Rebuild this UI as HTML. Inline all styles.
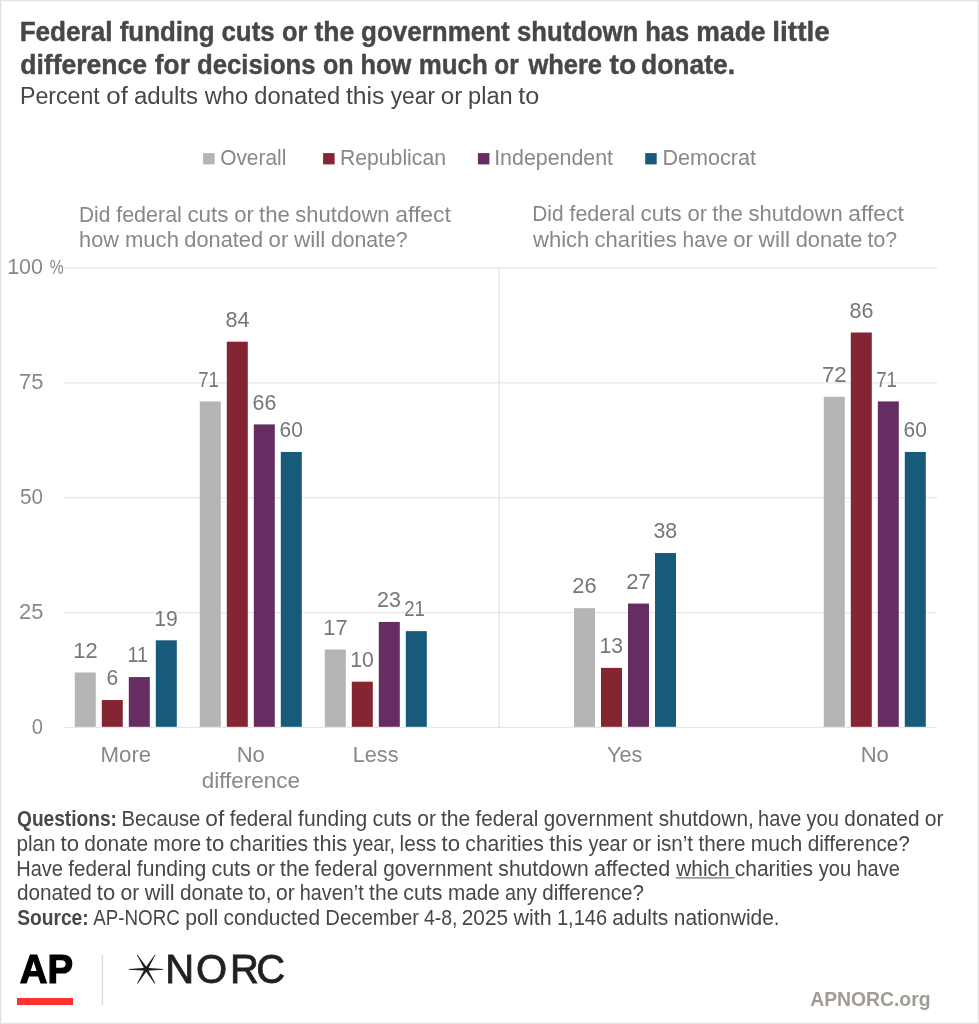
<!DOCTYPE html>
<html><head><meta charset="utf-8"><title>AP-NORC poll chart: Federal funding cuts or the government shutdown has made little difference for decisions on how much or where to donate</title>
<style>
html,body{margin:0;padding:0;background:#fff;}
body{width:979px;height:1024px;overflow:hidden;position:relative;}
svg{position:absolute;left:0;top:0;display:block;}
text{font-family:"Liberation Sans",Arial,sans-serif;}
.ttl{font-weight:bold;fill:#474747;font-size:28.2px;stroke:#474747;stroke-width:0.45px;}
.sub{fill:#474747;font-size:23.3px;}
.leg{fill:#888888;font-size:21.5px;}
.ptl{fill:#888888;font-size:21.5px;}
.ax{fill:#888888;font-size:21.9px;}
.pct{fill:#888888;font-size:19.5px;}
.val{fill:#767676;font-size:22px;}
.xl{fill:#888888;font-size:22.2px;}
.ft{fill:#474747;font-size:21.2px;font-weight:normal;}
.ftb{fill:#474747;font-size:21.2px;font-weight:bold;}
.org{font-weight:bold;fill:#a19c90;font-size:21px;}
.norc{fill:#231f20;font-size:40px;stroke:#231f20;stroke-width:0.8px;}
.ap{fill:#000;font-weight:bold;font-size:40px;stroke:#000;stroke-width:1.2px;}
</style></head><body>
<svg width="979" height="1024" viewBox="0 0 979 1024">
<rect x="0.5" y="0.5" width="978" height="1023" fill="#fff" stroke="#e2e2e2" stroke-width="1"/>
<rect x="1.5" y="1.5" width="976" height="1021" fill="none" stroke="#f6f6f6" stroke-width="1"/>
<text id="t1" class="ttl" y="41.3"><tspan id="t1_0" x="19.63" textLength="92.93" lengthAdjust="spacingAndGlyphs">Federal</tspan> <tspan id="t1_1" x="119.74" textLength="94.77" lengthAdjust="spacingAndGlyphs">funding</tspan> <tspan id="t1_2" x="221.45" textLength="53.20" lengthAdjust="spacingAndGlyphs">cuts</tspan> <tspan id="t1_3" x="281.96" textLength="25.41" lengthAdjust="spacingAndGlyphs">or</tspan> <tspan id="t1_4" x="314.49" textLength="39.72" lengthAdjust="spacingAndGlyphs">the</tspan> <tspan id="t1_5" x="361.09" textLength="148.61" lengthAdjust="spacingAndGlyphs">government</tspan> <tspan id="t1_6" x="517.00" textLength="121.25" lengthAdjust="spacingAndGlyphs">shutdown</tspan> <tspan id="t1_7" x="645.24" textLength="44.04" lengthAdjust="spacingAndGlyphs">has</tspan> <tspan id="t1_8" x="696.30" textLength="69.29" lengthAdjust="spacingAndGlyphs">made</tspan> <tspan id="t1_9" x="772.37" textLength="57.35" lengthAdjust="spacingAndGlyphs">little</tspan></text>
<text id="t2" class="ttl" y="74.2"><tspan id="t2_0" x="20.26" textLength="126.72" lengthAdjust="spacingAndGlyphs">difference</tspan> <tspan id="t2_1" x="154.83" textLength="35.09" lengthAdjust="spacingAndGlyphs">for</tspan> <tspan id="t2_2" x="197.10" textLength="118.51" lengthAdjust="spacingAndGlyphs">decisions</tspan> <tspan id="t2_3" x="322.93" textLength="30.62" lengthAdjust="spacingAndGlyphs">on</tspan> <tspan id="t2_4" x="360.45" textLength="50.78" lengthAdjust="spacingAndGlyphs">how</tspan> <tspan id="t2_5" x="418.81" textLength="68.97" lengthAdjust="spacingAndGlyphs">much</tspan> <tspan id="t2_6" x="494.35" textLength="24.39" lengthAdjust="spacingAndGlyphs">or</tspan> <tspan id="t2_7" x="528.43" textLength="73.54" lengthAdjust="spacingAndGlyphs">where</tspan> <tspan id="t2_8" x="609.54" textLength="26.63" lengthAdjust="spacingAndGlyphs">to</tspan> <tspan id="t2_9" x="640.97" textLength="94.09" lengthAdjust="spacingAndGlyphs">donate.</tspan></text>
<text id="sub" class="sub" y="103.6"><tspan id="sub_0" x="19.95" textLength="79.87" lengthAdjust="spacingAndGlyphs">Percent</tspan> <tspan id="sub_1" x="106.31" textLength="21.63" lengthAdjust="spacingAndGlyphs">of</tspan> <tspan id="sub_2" x="133.97" textLength="64.09" lengthAdjust="spacingAndGlyphs">adults</tspan> <tspan id="sub_3" x="204.76" textLength="43.46" lengthAdjust="spacingAndGlyphs">who</tspan> <tspan id="sub_4" x="254.37" textLength="85.78" lengthAdjust="spacingAndGlyphs">donated</tspan> <tspan id="sub_5" x="345.90" textLength="38.49" lengthAdjust="spacingAndGlyphs">this</tspan> <tspan id="sub_6" x="390.69" textLength="44.28" lengthAdjust="spacingAndGlyphs">year</tspan> <tspan id="sub_7" x="440.80" textLength="21.46" lengthAdjust="spacingAndGlyphs">or</tspan> <tspan id="sub_8" x="468.09" textLength="44.67" lengthAdjust="spacingAndGlyphs">plan</tspan> <tspan id="sub_9" x="518.35" textLength="21.04" lengthAdjust="spacingAndGlyphs">to</tspan></text>
<text id="lg1" class="leg" y="165.2"><tspan id="lg1_0" x="220.16" textLength="66.15" lengthAdjust="spacingAndGlyphs">Overall</tspan></text>
<text id="lg2" class="leg" y="165.2"><tspan id="lg2_0" x="340.01" textLength="105.95" lengthAdjust="spacingAndGlyphs">Republican</tspan></text>
<text id="lg3" class="leg" y="165.2"><tspan id="lg3_0" x="494.18" textLength="118.86" lengthAdjust="spacingAndGlyphs">Independent</tspan></text>
<text id="lg4" class="leg" y="165.2"><tspan id="lg4_0" x="662.47" textLength="93.53" lengthAdjust="spacingAndGlyphs">Democrat</tspan></text>
<text id="p1" class="ptl" y="221.8"><tspan id="p1_0" x="78.93" textLength="31.33" lengthAdjust="spacingAndGlyphs">Did</tspan> <tspan id="p1_1" x="116.16" textLength="65.71" lengthAdjust="spacingAndGlyphs">federal</tspan> <tspan id="p1_2" x="187.41" textLength="41.08" lengthAdjust="spacingAndGlyphs">cuts</tspan> <tspan id="p1_3" x="234.31" textLength="19.67" lengthAdjust="spacingAndGlyphs">or</tspan> <tspan id="p1_4" x="259.00" textLength="30.82" lengthAdjust="spacingAndGlyphs">the</tspan> <tspan id="p1_5" x="295.31" textLength="94.34" lengthAdjust="spacingAndGlyphs">shutdown</tspan> <tspan id="p1_6" x="395.19" textLength="55.64" lengthAdjust="spacingAndGlyphs">affect</tspan></text>
<text id="p2" class="ptl" y="247.4"><tspan id="p2_0" x="79.08" textLength="39.84" lengthAdjust="spacingAndGlyphs">how</tspan> <tspan id="p2_1" x="124.96" textLength="53.95" lengthAdjust="spacingAndGlyphs">much</tspan> <tspan id="p2_2" x="184.38" textLength="78.62" lengthAdjust="spacingAndGlyphs">donated</tspan> <tspan id="p2_3" x="268.59" textLength="19.67" lengthAdjust="spacingAndGlyphs">or</tspan> <tspan id="p2_4" x="293.93" textLength="31.47" lengthAdjust="spacingAndGlyphs">will</tspan> <tspan id="p2_5" x="330.96" textLength="76.63" lengthAdjust="spacingAndGlyphs">donate?</tspan></text>
<text id="p3" class="ptl" y="220.8"><tspan id="p3_0" x="532.23" textLength="31.31" lengthAdjust="spacingAndGlyphs">Did</tspan> <tspan id="p3_1" x="569.44" textLength="65.66" lengthAdjust="spacingAndGlyphs">federal</tspan> <tspan id="p3_2" x="640.62" textLength="41.05" lengthAdjust="spacingAndGlyphs">cuts</tspan> <tspan id="p3_3" x="687.49" textLength="19.65" lengthAdjust="spacingAndGlyphs">or</tspan> <tspan id="p3_4" x="712.15" textLength="30.79" lengthAdjust="spacingAndGlyphs">the</tspan> <tspan id="p3_5" x="748.43" textLength="94.26" lengthAdjust="spacingAndGlyphs">shutdown</tspan> <tspan id="p3_6" x="848.23" textLength="55.59" lengthAdjust="spacingAndGlyphs">affect</tspan></text>
<text id="p4" class="ptl" y="246.7"><tspan id="p4_0" x="533.00" textLength="56.29" lengthAdjust="spacingAndGlyphs">which</tspan> <tspan id="p4_1" x="594.56" textLength="82.18" lengthAdjust="spacingAndGlyphs">charities</tspan> <tspan id="p4_2" x="682.54" textLength="45.41" lengthAdjust="spacingAndGlyphs">have</tspan> <tspan id="p4_3" x="733.27" textLength="19.69" lengthAdjust="spacingAndGlyphs">or</tspan> <tspan id="p4_4" x="758.64" textLength="31.51" lengthAdjust="spacingAndGlyphs">will</tspan> <tspan id="p4_5" x="795.70" textLength="66.81" lengthAdjust="spacingAndGlyphs">donate</tspan> <tspan id="p4_6" x="867.54" textLength="29.50" lengthAdjust="spacingAndGlyphs">to?</tspan></text>
<text id="f1" class="ftb" y="826.1"><tspan id="f1_0" x="17.03" textLength="99.94" lengthAdjust="spacingAndGlyphs">Questions:</tspan> <tspan id="f1_1" class="ft" x="121.48" textLength="78.92" lengthAdjust="spacingAndGlyphs">Because</tspan> <tspan id="f1_2" class="ft" x="205.38" textLength="18.94" lengthAdjust="spacingAndGlyphs">of</tspan> <tspan id="f1_3" class="ft" x="229.73" textLength="62.78" lengthAdjust="spacingAndGlyphs">federal</tspan> <tspan id="f1_4" class="ft" x="298.12" textLength="69.18" lengthAdjust="spacingAndGlyphs">funding</tspan> <tspan id="f1_5" class="ft" x="372.49" textLength="39.24" lengthAdjust="spacingAndGlyphs">cuts</tspan> <tspan id="f1_6" class="ft" x="417.30" textLength="18.79" lengthAdjust="spacingAndGlyphs">or</tspan> <tspan id="f1_7" class="ft" x="440.88" textLength="29.44" lengthAdjust="spacingAndGlyphs">the</tspan> <tspan id="f1_8" class="ft" x="475.58" textLength="62.78" lengthAdjust="spacingAndGlyphs">federal</tspan> <tspan id="f1_9" class="ft" x="543.78" textLength="108.97" lengthAdjust="spacingAndGlyphs">government</tspan> <tspan id="f1_10" class="ft" x="658.68" textLength="95.12" lengthAdjust="spacingAndGlyphs">shutdown,</tspan> <tspan id="f1_11" class="ft" x="758.05" textLength="43.33" lengthAdjust="spacingAndGlyphs">have</tspan> <tspan id="f1_12" class="ft" x="806.47" textLength="32.51" lengthAdjust="spacingAndGlyphs">you</tspan> <tspan id="f1_13" class="ft" x="844.33" textLength="75.12" lengthAdjust="spacingAndGlyphs">donated</tspan> <tspan id="f1_14" class="ft" x="924.79" textLength="18.79" lengthAdjust="spacingAndGlyphs">or</tspan></text>
<text id="f2" class="ft" y="850.9"><tspan id="f2_0" x="16.45" textLength="39.20" lengthAdjust="spacingAndGlyphs">plan</tspan> <tspan id="f2_1" x="60.56" textLength="18.46" lengthAdjust="spacingAndGlyphs">to</tspan> <tspan id="f2_2" x="84.36" textLength="63.88" lengthAdjust="spacingAndGlyphs">donate</tspan> <tspan id="f2_3" x="153.32" textLength="47.76" lengthAdjust="spacingAndGlyphs">more</tspan> <tspan id="f2_4" x="205.84" textLength="18.46" lengthAdjust="spacingAndGlyphs">to</tspan> <tspan id="f2_5" x="229.53" textLength="78.57" lengthAdjust="spacingAndGlyphs">charities</tspan> <tspan id="f2_6" x="313.38" textLength="33.78" lengthAdjust="spacingAndGlyphs">this</tspan> <tspan id="f2_7" x="352.69" textLength="42.34" lengthAdjust="spacingAndGlyphs">year,</tspan> <tspan id="f2_8" x="399.61" textLength="36.77" lengthAdjust="spacingAndGlyphs">less</tspan> <tspan id="f2_9" x="441.63" textLength="18.46" lengthAdjust="spacingAndGlyphs">to</tspan> <tspan id="f2_10" x="465.33" textLength="78.57" lengthAdjust="spacingAndGlyphs">charities</tspan> <tspan id="f2_11" x="549.17" textLength="33.78" lengthAdjust="spacingAndGlyphs">this</tspan> <tspan id="f2_12" x="588.48" textLength="38.86" lengthAdjust="spacingAndGlyphs">year</tspan> <tspan id="f2_13" x="632.45" textLength="18.83" lengthAdjust="spacingAndGlyphs">or</tspan> <tspan id="f2_14" x="656.40" textLength="36.66" lengthAdjust="spacingAndGlyphs">isn’t</tspan> <tspan id="f2_15" x="698.43" textLength="47.23" lengthAdjust="spacingAndGlyphs">there</tspan> <tspan id="f2_16" x="750.73" textLength="51.65" lengthAdjust="spacingAndGlyphs">much</tspan> <tspan id="f2_17" x="807.63" textLength="102.24" lengthAdjust="spacingAndGlyphs">difference?</tspan></text>
<text id="f3" class="ft" y="875.6"><tspan id="f3_0" x="16.20" textLength="46.76" lengthAdjust="spacingAndGlyphs">Have</tspan> <tspan id="f3_1" x="68.31" textLength="62.93" lengthAdjust="spacingAndGlyphs">federal</tspan> <tspan id="f3_2" x="136.87" textLength="69.35" lengthAdjust="spacingAndGlyphs">funding</tspan> <tspan id="f3_3" x="211.43" textLength="39.34" lengthAdjust="spacingAndGlyphs">cuts</tspan> <tspan id="f3_4" x="256.35" textLength="18.84" lengthAdjust="spacingAndGlyphs">or</tspan> <tspan id="f3_5" x="279.99" textLength="29.51" lengthAdjust="spacingAndGlyphs">the</tspan> <tspan id="f3_6" x="314.78" textLength="62.93" lengthAdjust="spacingAndGlyphs">federal</tspan> <tspan id="f3_7" x="383.15" textLength="109.24" lengthAdjust="spacingAndGlyphs">government</tspan> <tspan id="f3_8" x="498.34" textLength="90.35" lengthAdjust="spacingAndGlyphs">shutdown</tspan> <tspan id="f3_9" x="594.01" textLength="76.33" lengthAdjust="spacingAndGlyphs">affected</tspan> <tspan id="f3_10" x="676.30" textLength="53.29" lengthAdjust="spacingAndGlyphs">which</tspan> <tspan id="f3_11" x="734.65" textLength="78.41" lengthAdjust="spacingAndGlyphs">charities</tspan> <tspan id="f3_12" x="818.65" textLength="32.51" lengthAdjust="spacingAndGlyphs">you</tspan> <tspan id="f3_13" x="856.46" textLength="43.32" lengthAdjust="spacingAndGlyphs">have</tspan></text>
<text id="f4" class="ft" y="900.4"><tspan id="f4_0" x="16.97" textLength="74.88" lengthAdjust="spacingAndGlyphs">donated</tspan> <tspan id="f4_1" x="96.87" textLength="18.36" lengthAdjust="spacingAndGlyphs">to</tspan> <tspan id="f4_2" x="120.54" textLength="18.73" lengthAdjust="spacingAndGlyphs">or</tspan> <tspan id="f4_3" x="144.67" textLength="29.97" lengthAdjust="spacingAndGlyphs">will</tspan> <tspan id="f4_4" x="179.92" textLength="63.55" lengthAdjust="spacingAndGlyphs">donate</tspan> <tspan id="f4_5" x="248.23" textLength="23.43" lengthAdjust="spacingAndGlyphs">to,</tspan> <tspan id="f4_6" x="275.94" textLength="18.73" lengthAdjust="spacingAndGlyphs">or</tspan> <tspan id="f4_7" x="299.71" textLength="64.01" lengthAdjust="spacingAndGlyphs">haven’t</tspan> <tspan id="f4_8" x="369.06" textLength="29.35" lengthAdjust="spacingAndGlyphs">the</tspan> <tspan id="f4_9" x="403.31" textLength="39.12" lengthAdjust="spacingAndGlyphs">cuts</tspan> <tspan id="f4_10" x="447.99" textLength="51.78" lengthAdjust="spacingAndGlyphs">made</tspan> <tspan id="f4_11" x="504.97" textLength="31.89" lengthAdjust="spacingAndGlyphs">any</tspan> <tspan id="f4_12" x="542.22" textLength="101.71" lengthAdjust="spacingAndGlyphs">difference?</tspan></text>
<text id="f5" class="ftb" y="925.1"><tspan id="f5_0" x="17.22" textLength="71.46" lengthAdjust="spacingAndGlyphs">Source:</tspan> <tspan id="f5_1" class="ft" x="93.31" textLength="86.50" lengthAdjust="spacingAndGlyphs">AP-NORC</tspan> <tspan id="f5_2" class="ft" x="185.18" textLength="33.01" lengthAdjust="spacingAndGlyphs">poll</tspan> <tspan id="f5_3" class="ft" x="223.47" textLength="96.56" lengthAdjust="spacingAndGlyphs">conducted</tspan> <tspan id="f5_4" class="ft" x="325.36" textLength="93.58" lengthAdjust="spacingAndGlyphs">December</tspan> <tspan id="f5_5" class="ft" x="423.97" textLength="33.56" lengthAdjust="spacingAndGlyphs">4-8,</tspan> <tspan id="f5_6" class="ft" x="461.76" textLength="46.27" lengthAdjust="spacingAndGlyphs">2025</tspan> <tspan id="f5_7" class="ft" x="513.61" textLength="38.16" lengthAdjust="spacingAndGlyphs">with</tspan> <tspan id="f5_8" class="ft" x="556.94" textLength="50.15" lengthAdjust="spacingAndGlyphs">1,146</tspan> <tspan id="f5_9" class="ft" x="612.35" textLength="55.92" lengthAdjust="spacingAndGlyphs">adults</tspan> <tspan id="f5_10" class="ft" x="673.78" textLength="105.92" lengthAdjust="spacingAndGlyphs">nationwide.</tspan></text>
<text id="org" class="org" y="1005.6"><tspan id="org_0" x="810.22" textLength="120.28" lengthAdjust="spacingAndGlyphs">APNORC.org</tspan></text>
<rect x="203.1" y="153.1" width="11.5" height="11.3" fill="#b5b5b5"/>
<rect x="323.1" y="153.1" width="11.5" height="11.3" fill="#852532"/>
<rect x="477.9" y="153.1" width="11.5" height="11.3" fill="#652d62"/>
<rect x="645.2" y="153.1" width="11.5" height="11.3" fill="#175a7a"/>
<rect x="64" y="267.38" width="873" height="1.25" fill="#e6e6e6"/>
<rect x="64" y="382.23" width="873" height="1.25" fill="#e6e6e6"/>
<rect x="64" y="497.08" width="873" height="1.25" fill="#e6e6e6"/>
<rect x="64" y="611.93" width="873" height="1.25" fill="#e6e6e6"/>
<rect x="498.5" y="268.00" width="1.3" height="459.40" fill="#e6e6e6"/>
<text class="ax" x="7.14" y="274.40" textLength="35.92" lengthAdjust="spacingAndGlyphs">100</text>
<text class="ax" x="18.93" y="389.25" textLength="24.50" lengthAdjust="spacingAndGlyphs">75</text>
<text class="ax" x="19.96" y="504.10" textLength="22.98" lengthAdjust="spacingAndGlyphs">50</text>
<text class="ax" x="19.05" y="618.95" textLength="24.38" lengthAdjust="spacingAndGlyphs">25</text>
<text class="ax" x="31.69" y="733.80" textLength="11.25" lengthAdjust="spacingAndGlyphs">0</text>
<text class="pct" x="49.87" y="274.2" textLength="13.95" lengthAdjust="spacingAndGlyphs">%</text>
<rect x="74.80" y="672.47" width="21" height="55.13" fill="#b5b5b5"/>
<text class="val" x="73.29" y="657.67" textLength="24.40" lengthAdjust="spacingAndGlyphs">12</text>
<rect x="101.80" y="700.04" width="21" height="27.56" fill="#852532"/>
<text class="val" x="106.60" y="685.24" textLength="11.70" lengthAdjust="spacingAndGlyphs">6</text>
<rect x="128.80" y="677.07" width="21" height="50.53" fill="#652d62"/>
<text class="val" x="127.46" y="662.27" textLength="20.48" lengthAdjust="spacingAndGlyphs">11</text>
<rect x="155.80" y="640.31" width="21" height="87.29" fill="#175a7a"/>
<text class="val" x="154.35" y="625.51" textLength="23.55" lengthAdjust="spacingAndGlyphs">19</text>
<rect x="199.80" y="401.43" width="21" height="326.17" fill="#b5b5b5"/>
<text class="val" x="198.15" y="386.63" textLength="20.72" lengthAdjust="spacingAndGlyphs">71</text>
<rect x="226.80" y="341.70" width="21" height="385.90" fill="#852532"/>
<text class="val" x="225.42" y="326.90" textLength="24.15" lengthAdjust="spacingAndGlyphs">84</text>
<rect x="253.80" y="424.40" width="21" height="303.20" fill="#652d62"/>
<text class="val" x="252.54" y="409.60" textLength="23.80" lengthAdjust="spacingAndGlyphs">66</text>
<rect x="280.80" y="451.96" width="21" height="275.64" fill="#175a7a"/>
<text class="val" x="279.57" y="437.16" textLength="23.33" lengthAdjust="spacingAndGlyphs">60</text>
<rect x="324.80" y="649.50" width="21" height="78.10" fill="#b5b5b5"/>
<text class="val" x="323.30" y="634.70" textLength="24.28" lengthAdjust="spacingAndGlyphs">17</text>
<rect x="351.80" y="681.66" width="21" height="45.94" fill="#852532"/>
<text class="val" x="350.35" y="666.86" textLength="23.55" lengthAdjust="spacingAndGlyphs">10</text>
<rect x="378.80" y="621.94" width="21" height="105.66" fill="#652d62"/>
<text class="val" x="377.11" y="607.14" textLength="23.80" lengthAdjust="spacingAndGlyphs">23</text>
<rect x="405.80" y="631.13" width="21" height="96.47" fill="#175a7a"/>
<text class="val" x="404.26" y="616.33" textLength="20.60" lengthAdjust="spacingAndGlyphs">21</text>
<rect x="574.00" y="608.16" width="21" height="119.44" fill="#b5b5b5"/>
<text class="val" x="572.29" y="593.36" textLength="24.27" lengthAdjust="spacingAndGlyphs">26</text>
<rect x="601.00" y="667.88" width="21" height="59.72" fill="#852532"/>
<text class="val" x="599.55" y="653.08" textLength="23.55" lengthAdjust="spacingAndGlyphs">13</text>
<rect x="628.00" y="603.56" width="21" height="124.04" fill="#652d62"/>
<text class="val" x="626.28" y="588.76" textLength="24.51" lengthAdjust="spacingAndGlyphs">27</text>
<rect x="655.00" y="553.03" width="21" height="174.57" fill="#175a7a"/>
<text class="val" x="653.53" y="538.23" textLength="23.68" lengthAdjust="spacingAndGlyphs">38</text>
<rect x="823.80" y="396.83" width="21" height="330.77" fill="#b5b5b5"/>
<text class="val" x="821.96" y="382.03" textLength="24.74" lengthAdjust="spacingAndGlyphs">72</text>
<rect x="850.80" y="332.52" width="21" height="395.08" fill="#852532"/>
<text class="val" x="849.43" y="317.72" textLength="23.92" lengthAdjust="spacingAndGlyphs">86</text>
<rect x="877.80" y="401.43" width="21" height="326.17" fill="#652d62"/>
<text class="val" x="876.15" y="386.63" textLength="20.72" lengthAdjust="spacingAndGlyphs">71</text>
<rect x="904.80" y="451.96" width="21" height="275.64" fill="#175a7a"/>
<text class="val" x="903.57" y="437.16" textLength="23.33" lengthAdjust="spacingAndGlyphs">60</text>
<rect x="64" y="726.78" width="873" height="1.25" fill="#e6e6e6"/>
<text class="xl" x="100.55" y="761.8" textLength="50.71" lengthAdjust="spacingAndGlyphs">More</text>
<text class="xl" x="236.74" y="761.8" textLength="28.12" lengthAdjust="spacingAndGlyphs">No</text>
<text class="xl" x="352.81" y="761.8" textLength="45.68" lengthAdjust="spacingAndGlyphs">Less</text>
<text class="xl" x="606.99" y="761.8" textLength="35.39" lengthAdjust="spacingAndGlyphs">Yes</text>
<text class="xl" x="860.74" y="761.8" textLength="28.12" lengthAdjust="spacingAndGlyphs">No</text>
<text class="xl" x="201.75" y="787.5" textLength="98.24" lengthAdjust="spacingAndGlyphs">difference</text>
<rect x="675.8" y="877.3" width="59" height="1.2" fill="#707070"/>
<text class="norc" x="165.25 196.00 230.00 256.30" y="983.3">NORC</text>
<text class="ap" x="19.79" y="982.6" textLength="53.31" lengthAdjust="spacingAndGlyphs">AP</text>
<rect x="17" y="998" width="56" height="7" fill="#ff332e"/>
<rect x="101.8" y="955" width="1.3" height="50" fill="#d9d7d0"/>
<g fill="#231f20"><polygon points="146.20,967.75 129.00,968.95 128.70,969.30 129.00,969.65 146.20,970.85"/><polygon points="146.20,970.85 163.10,969.65 163.40,969.30 163.10,968.95 146.20,967.75"/><polygon points="147.52,968.48 137.70,954.92 137.24,954.84 137.10,955.28 144.88,970.12"/><polygon points="147.52,970.11 155.20,955.28 155.06,954.84 154.60,954.92 144.88,968.49"/><polygon points="144.88,968.48 137.10,983.32 137.24,983.76 137.70,983.68 147.52,970.12"/><polygon points="144.88,970.11 154.60,983.68 155.06,983.76 155.20,983.32 147.52,968.49"/><circle cx="146.2" cy="969.3" r="2.5"/></g>
</svg>
</body></html>
